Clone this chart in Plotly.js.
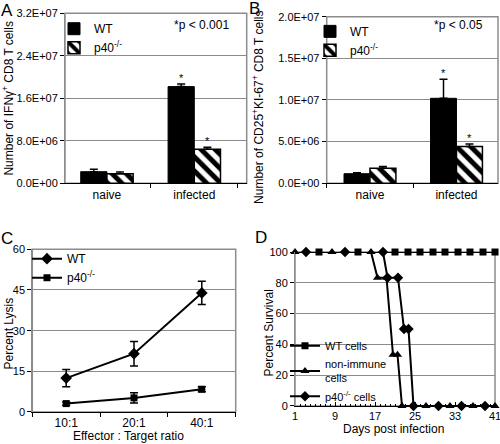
<!DOCTYPE html>
<html><head><meta charset="utf-8">
<script src="https://cdn.plot.ly/plotly-3.0.1.min.js"></script>
<style>html,body{margin:0;padding:0;background:#fff;}#chart{width:500px;height:444px;}</style>
</head><body><div id="chart"></div>
<script>
// ---------- Panel A ----------
const groupsAB = ["naive", "infected"];
const aWT = [2.18e6, 1.82e7];
const aWTErr = [0.45e6, 0.5e6];
const aKO = [1.81e6, 6.4e6];
const aKOErr = [0.32e6, 0.38e6];
const aStars = ["", "*"];
const aTickVals = [0, 8e6, 1.6e7, 2.4e7, 3.2e7];
const aTickText = ["0.0E+00", "8.0E+06", "1.6E+07", "2.4E+07", "3.2E+07"];
// ---------- Panel B ----------
const bWT = [1.15e6, 1.02e7];
const bWTErr = [0.12e6, 2.3e6];
const bKO = [1.8e6, 4.4e6];
const bKOErr = [0.2e6, 0.32e6];
const bStars = ["", "*"];
const bTickVals = [0, 5e6, 1e7, 1.5e7, 2e7];
const bTickText = ["0.0E+00", "5.0E+06", "1.0E+07", "1.5E+07", "2.0E+07"];
// ---------- Panel C ----------
const ratios = ["10:1", "20:1", "40:1"];
const cWT = [12.5, 21.5, 43.9];
const cWTErr = [3.2, 4.5, 4.3];
const cKO = [3.1, 5.2, 8.4];
const cKOErr = [0.6, 1.9, 0.9];
// ---------- Panel D ----------
const dWTDays = [5.8, 13.6, 21, 23.6, 26, 28.6, 31, 33.6, 36, 38.6, 41];
const dWTSurv = [100, 100, 100, 100, 100, 100, 100, 100, 100, 100, 100];
const dNIDays = [1, 8.4, 16.2, 17.5, 19.3, 20.6, 21.5, 22.4, 27.2, 32, 36.6, 41];
const dNISurv = [100, 100, 100, 83.3, 83.3, 33.3, 33.3, 0, 0, 0, 0, 0];
const dKODays = [3.2, 11, 18.6, 19.5, 21.6, 22.8, 23.7, 24.7, 29.7, 34.3, 39];
const dKOSurv = [100, 100, 100, 83.3, 83.3, 50, 50, 0, 0, 0, 0];

const FONT = 'Liberation Sans, Arial, sans-serif';
const GRID = '#8c8c8c';
const zeros = n => new Array(n).fill(0);

// subplot domains (paper fractions)
const domA = {x: [0.13, 0.4934], y: [0.5872, 0.97]};
const domB = {x: [0.6534, 0.996], y: [0.5872, 0.9625]};
const domC = {x: [0.0646, 0.4714], y: [0.0721, 0.4385]};
const domD = {x: [0.59, 0.99], y: [0.0856, 0.4324]};

const hatch = {shape: '\\', fgcolor: '#000', bgcolor: '#fff', fillmode: 'overlay', fgopacity: 1, size: 10, solidity: 0.5};

function barPair(wt, wtErr, ko, koErr, xa, ya, leg) {
  return [
    {type: 'bar', x: groupsAB, y: wt, name: 'WT', xaxis: xa, yaxis: ya, legend: leg,
     marker: {color: '#000', line: {color: '#000', width: 1}},
     error_y: {type: 'data', symmetric: false, array: wtErr, arrayminus: zeros(wt.length), color: '#000', thickness: 1.5, width: 4}},
    {type: 'bar', x: groupsAB, y: ko, name: 'p40<sup>-/-</sup>', xaxis: xa, yaxis: ya, legend: leg,
     marker: {color: '#fff', pattern: hatch, line: {color: '#000', width: 1.5}},
     error_y: {type: 'data', symmetric: false, array: koErr, arrayminus: zeros(ko.length), color: '#000', thickness: 1.5, width: 4}}
  ];
}

const traces = [
  ...barPair(aWT, aWTErr, aKO, aKOErr, 'x', 'y', 'legend'),
  ...barPair(bWT, bWTErr, bKO, bKOErr, 'x2', 'y2', 'legend2'),
  {type: 'scatter', mode: 'lines+markers', x: ratios, y: cWT, name: 'WT', xaxis: 'x3', yaxis: 'y3', legend: 'legend3', cliponaxis: false,
   line: {color: '#000', width: 2}, marker: {symbol: 'diamond', size: 9, color: '#000'},
   error_y: {type: 'data', array: cWTErr, color: '#000', thickness: 1.5, width: 4}},
  {type: 'scatter', mode: 'lines+markers', x: ratios, y: cKO, name: 'p40<sup>-/-</sup>', xaxis: 'x3', yaxis: 'y3', legend: 'legend3', cliponaxis: false,
   line: {color: '#000', width: 2}, marker: {symbol: 'square', size: 7, color: '#000'},
   error_y: {type: 'data', array: cKOErr, color: '#000', thickness: 1.5, width: 4}},
  {type: 'scatter', mode: 'lines+markers', x: dWTDays, y: dWTSurv, name: 'WT cells', xaxis: 'x4', yaxis: 'y4', legend: 'legend4', cliponaxis: false,
   line: {color: '#000', width: 2}, marker: {symbol: 'square', size: 7, color: '#000'}},
  {type: 'scatter', mode: 'lines+markers', x: dNIDays, y: dNISurv, name: 'non-immune<br>cells', xaxis: 'x4', yaxis: 'y4', legend: 'legend4', cliponaxis: false,
   line: {color: '#000', width: 2}, marker: {symbol: 'triangle-up', size: 8, color: '#000'}},
  {type: 'scatter', mode: 'lines+markers', x: dKODays, y: dKOSurv, name: 'p40<sup>-/-</sup> cells', xaxis: 'x4', yaxis: 'y4', legend: 'legend4', cliponaxis: false,
   line: {color: '#000', width: 2}, marker: {symbol: 'diamond', size: 8, color: '#000'}}
];

const baseX = {showline: true, linecolor: '#000', linewidth: 1, ticks: 'outside', ticklen: 4, tickcolor: '#000',
  tickfont: {family: FONT, size: 12, color: '#000'}, showgrid: false, zeroline: false, fixedrange: true};
const baseY = {showline: true, linecolor: GRID, linewidth: 1, ticks: 'outside', ticklen: 4, tickcolor: '#000',
  tickfont: {family: FONT, size: 11, color: '#000'}, showgrid: true, gridcolor: GRID, gridwidth: 1, zeroline: false, fixedrange: true};

function border(dom) {
  return {type: 'rect', xref: 'paper', yref: 'paper', x0: dom.x[0], x1: dom.x[1], y0: dom.y[0], y1: dom.y[1],
    line: {color: GRID, width: 1.5}, fillcolor: 'rgba(0,0,0,0)', layer: 'below'};
}

function stars(stArr, wt, wtErr, ko, koErr, xa, ya) {
  const out = [];
  stArr.forEach((s, i) => {
    if (!s) return;
    out.push({xref: xa, yref: ya, x: i - 0.15, y: wt[i] + wtErr[i], text: s, showarrow: false, yanchor: 'bottom', yshift: -2,
      font: {family: FONT, size: 11, color: '#000'}});
    out.push({xref: xa, yref: ya, x: i + 0.15, y: ko[i] + koErr[i], text: s, showarrow: false, yanchor: 'bottom', yshift: -2,
      font: {family: FONT, size: 11, color: '#000'}});
  });
  return out;
}

function txt(text, x, y, size, angle, extra) {
  return Object.assign({xref: 'paper', yref: 'paper', x: x, y: y, text: text, showarrow: false, textangle: angle || 0,
    xanchor: 'center', yanchor: 'middle', font: {family: FONT, size: size, color: '#000'}}, extra || {});
}

const legBase = {bgcolor: 'rgba(0,0,0,0)', borderwidth: 0, xanchor: 'left', yanchor: 'top', itemwidth: 30,
  tracegroupgap: 0, font: {family: FONT, size: 12, color: '#000'}};

const layout = {
  width: 500, height: 444, margin: {l: 0, r: 0, t: 0, b: 0}, paper_bgcolor: '#fff', plot_bgcolor: 'rgba(0,0,0,0)',
  font: {family: FONT, color: '#000'}, showlegend: true, bargap: 0.4, bargroupgap: 0, barmode: 'group',
  xaxis: Object.assign({}, baseX, {domain: domA.x, anchor: 'y', type: 'category', range: [-0.48, 1.6], tickson: 'boundaries'}),
  yaxis: Object.assign({}, baseY, {domain: domA.y, anchor: 'x', range: [0, 3.2e7], tickvals: aTickVals, ticktext: aTickText}),
  xaxis2: Object.assign({}, baseX, {domain: domB.x, anchor: 'y2', type: 'category', range: [-0.5, 1.48], tickson: 'boundaries'}),
  yaxis2: Object.assign({}, baseY, {domain: domB.y, anchor: 'x2', range: [0, 2e7], tickvals: bTickVals, ticktext: bTickText}),
  xaxis3: Object.assign({}, baseX, {domain: domC.x, anchor: 'y3', type: 'category', range: [-0.5, 2.5], tickson: 'boundaries'}),
  yaxis3: Object.assign({}, baseY, {domain: domC.y, anchor: 'x3', range: [0, 60], dtick: 15, tick0: 0}),
  xaxis4: Object.assign({}, baseX, {domain: domD.x, anchor: 'y4', type: 'linear', range: [1, 41], tick0: 1, dtick: 8,
    ticks: 'inside', ticklen: 4, ticklabeloverflow: 'allow', tickfont: {family: FONT, size: 11, color: '#000'},
    minor: {dtick: 1, tick0: 1, ticks: 'inside', ticklen: 2, tickcolor: '#000', showgrid: false}}),
  yaxis4: Object.assign({}, baseY, {domain: domD.y, anchor: 'x4', range: [0, 100], dtick: 20, tick0: 0}),
  legend: Object.assign({}, legBase, {x: 0.108, y: 0.968}),
  legend2: Object.assign({}, legBase, {x: 0.62, y: 0.962}),
  legend3: Object.assign({}, legBase, {x: 0.054, y: 0.45}),
  legend4: Object.assign({}, legBase, {x: 0.57, y: 0.074, yanchor: 'bottom', font: {family: FONT, size: 11, color: '#000'}}),
  shapes: [border(domA), border(domB), border(domC), border(domD)],
  annotations: [
    ...stars(aStars, aWT, aWTErr, aKO, aKOErr, 'x', 'y'),
    ...stars(bStars, bWT, bWTErr, bKO, bKOErr, 'x2', 'y2'),
    txt('*p &lt; 0.001', 0.462, 0.944, 12, 0, {xanchor: 'right'}),
    txt('*p &lt; 0.05', 0.97, 0.944, 12, 0, {xanchor: 'right'}),
    txt('Number of IFNγ<sup>+</sup> CD8 T cells', 0.017, 0.779, 12, -90),
    txt('Number of CD25<sup>+</sup>KI-67<sup>+</sup> CD8 T cells', 0.517, 0.758, 12, -90),
    txt('Percent Lysis', 0.017, 0.248, 12, -90),
    txt('Effector : Target ratio', 0.257, 0.019, 12, 0),
    txt('Percent Survival', 0.537, 0.25, 12, -90),
    txt('Days post infection', 0.786, 0.033, 12, 0),
    txt('A', 0.014, 0.977, 17, 0),
    txt('B', 0.508, 0.98, 17, 0),
    txt('C', 0.014, 0.462, 17, 0),
    txt('D', 0.522, 0.466, 17, 0)
  ]
};

Plotly.newPlot('chart', traces, layout, {staticPlot: true, displayModeBar: false});
</script>
</body></html>
